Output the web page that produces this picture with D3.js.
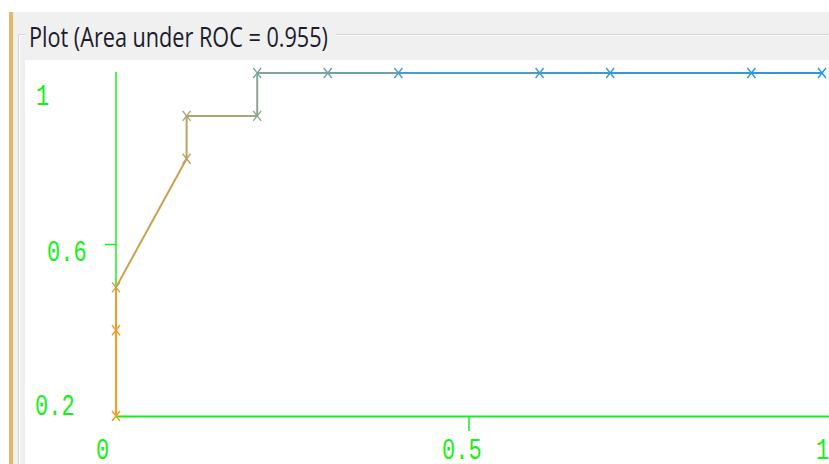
<!DOCTYPE html>
<html><head><meta charset="utf-8">
<script src="https://cdn.jsdelivr.net/npm/d3@7"></script>
<style>
html,body{margin:0;padding:0;background:#fff;}
svg{display:block;}
</style></head>
<body>
<script>
// ROC curve data (False Positive Rate, True Positive Rate, threshold)
const fpr = [0, 0, 0, 0.1, 0.1, 0.2, 0.2, 0.3, 0.4, 0.6, 0.7, 0.9, 1.0];
const tpr = [0.2, 0.4, 0.5, 0.8, 0.9, 0.9, 1.0, 1.0, 1.0, 1.0, 1.0, 1.0, 1.0];
const threshold = [1.0, 0.95, 0.76, 0.68, 0.58, 0.45, 0.40, 0.33, 0.18, 0.12, 0.07, 0.03, 0.0];
const xTicks = [0, 0.5, 1];
const xTickLabels = ["0", "0.5", "1"];
const yTicks = [1, 0.6, 0.2];
const yTickLabels = ["1", "0.6", "0.2"];
const title = "Plot (Area under ROC = 0.955)";

const W = 829, H = 464;
const svg = d3.select("body").append("svg").attr("width", W).attr("height", H);

// window background
svg.append("rect").attr("x",0).attr("y",0).attr("width",W).attr("height",H).attr("fill","#ffffff");
svg.append("rect").attr("x",13).attr("y",12).attr("width",W-13).attr("height",H-12).attr("fill","#f0f0f0");
svg.append("rect").attr("x",9).attr("y",12).attr("width",4).attr("height",H-12).attr("fill","#e1bb68");
// titled border
svg.append("path").attr("d","M18.5,464 V34.5 H26").attr("fill","none").attr("stroke","#d2d6da").attr("stroke-width",1);
svg.append("path").attr("d","M336,34.5 H829").attr("fill","none").attr("stroke","#d2d6da").attr("stroke-width",1);
svg.append("path").attr("d","M19.5,464 V35.5 H26 M336,35.5 H829").attr("fill","none").attr("stroke","#ffffff").attr("stroke-width",1);
svg.append("text").attr("x",29).attr("y",47).attr("font-family","'Open Sans','Noto Sans',sans-serif")
  .attr("font-size",27).attr("fill","#1c1c2c").attr("textLength",299).attr("lengthAdjust","spacingAndGlyphs")
  .text(title);
// plot area
svg.append("rect").attr("x",25).attr("y",60).attr("width",W-25).attr("height",H-60).attr("fill","#ffffff");

const x = d3.scaleLinear().domain([0,1]).range([116,822]);
const y = d3.scaleLinear().domain([0.2,1]).range([416,73]);
const green = "#16f016";
const color = d3.scaleLinear().domain([0,0.5,1])
  .range(["rgb(40,148,232)","rgb(150,168,135)","rgb(255,152,28)"]).interpolate(d3.interpolateRgb);

// axes lines
svg.append("line").attr("x1",x(0)).attr("x2",W).attr("y1",y(0.2)+0.5).attr("y2",y(0.2)+0.5)
  .attr("stroke",green).attr("stroke-width",2);
svg.append("line").attr("x1",x(0)).attr("x2",x(0)).attr("y1",y(1)-1).attr("y2",y(0.2))
  .attr("stroke",green).attr("stroke-width",1.5);
// inner ticks
svg.append("line").attr("x1",x(0)-11).attr("x2",x(0)).attr("y1",y(0.6)).attr("y2",y(0.6)).attr("stroke",green).attr("stroke-width",1.5);
svg.append("line").attr("x1",x(0.5)).attr("x2",x(0.5)).attr("y1",y(0.2)).attr("y2",y(0.2)+15).attr("stroke",green).attr("stroke-width",1.5);

const mono = "'Liberation Mono','DejaVu Sans Mono',monospace";
// y labels (Weka places extreme labels inside the axis range)
const yLabelPos = [{dx:-80, dy:32}, {dx:-69, dy:16}, {dx:-81, dy:-1}];
yTicks.forEach((v,i)=>{
  svg.append("text").attr("transform",`translate(${x(0)+yLabelPos[i].dx},${y(v)+yLabelPos[i].dy}) scale(1,1.32)`)
    .attr("font-family",mono).attr("font-size",22).attr("fill",green).text(yTickLabels[i]);
});
const xLabelPos = [-20, -27, -6];
xTicks.forEach((v,i)=>{
  svg.append("text").attr("transform",`translate(${x(v)+xLabelPos[i]},${y(0.2)+43}) scale(1,1.32)`)
    .attr("font-family",mono).attr("font-size",22).attr("fill",green).text(xTickLabels[i]);
});

// curve segments
const pts = fpr.map((f,i)=>({f, t:tpr[i], th:threshold[i]}));
for (let i=0;i<pts.length-1;i++){
  svg.append("line").attr("x1",x(pts[i].f)).attr("y1",y(pts[i].t))
    .attr("x2",x(pts[i+1].f)).attr("y2",y(pts[i+1].t))
    .attr("stroke",color(pts[i].th)).attr("stroke-width",2);
}
// markers
const g = svg.append("g");
pts.forEach(p=>{
  const cx = x(p.f), cy = y(p.t);
  g.append("path").attr("d",`M${cx-4},${cy-5}L${cx+4},${cy+5}M${cx+4},${cy-5}L${cx-4},${cy+5}`)
    .attr("stroke",color(p.th)).attr("stroke-width",1.4).attr("fill","none");
});
</script>
</body></html>
